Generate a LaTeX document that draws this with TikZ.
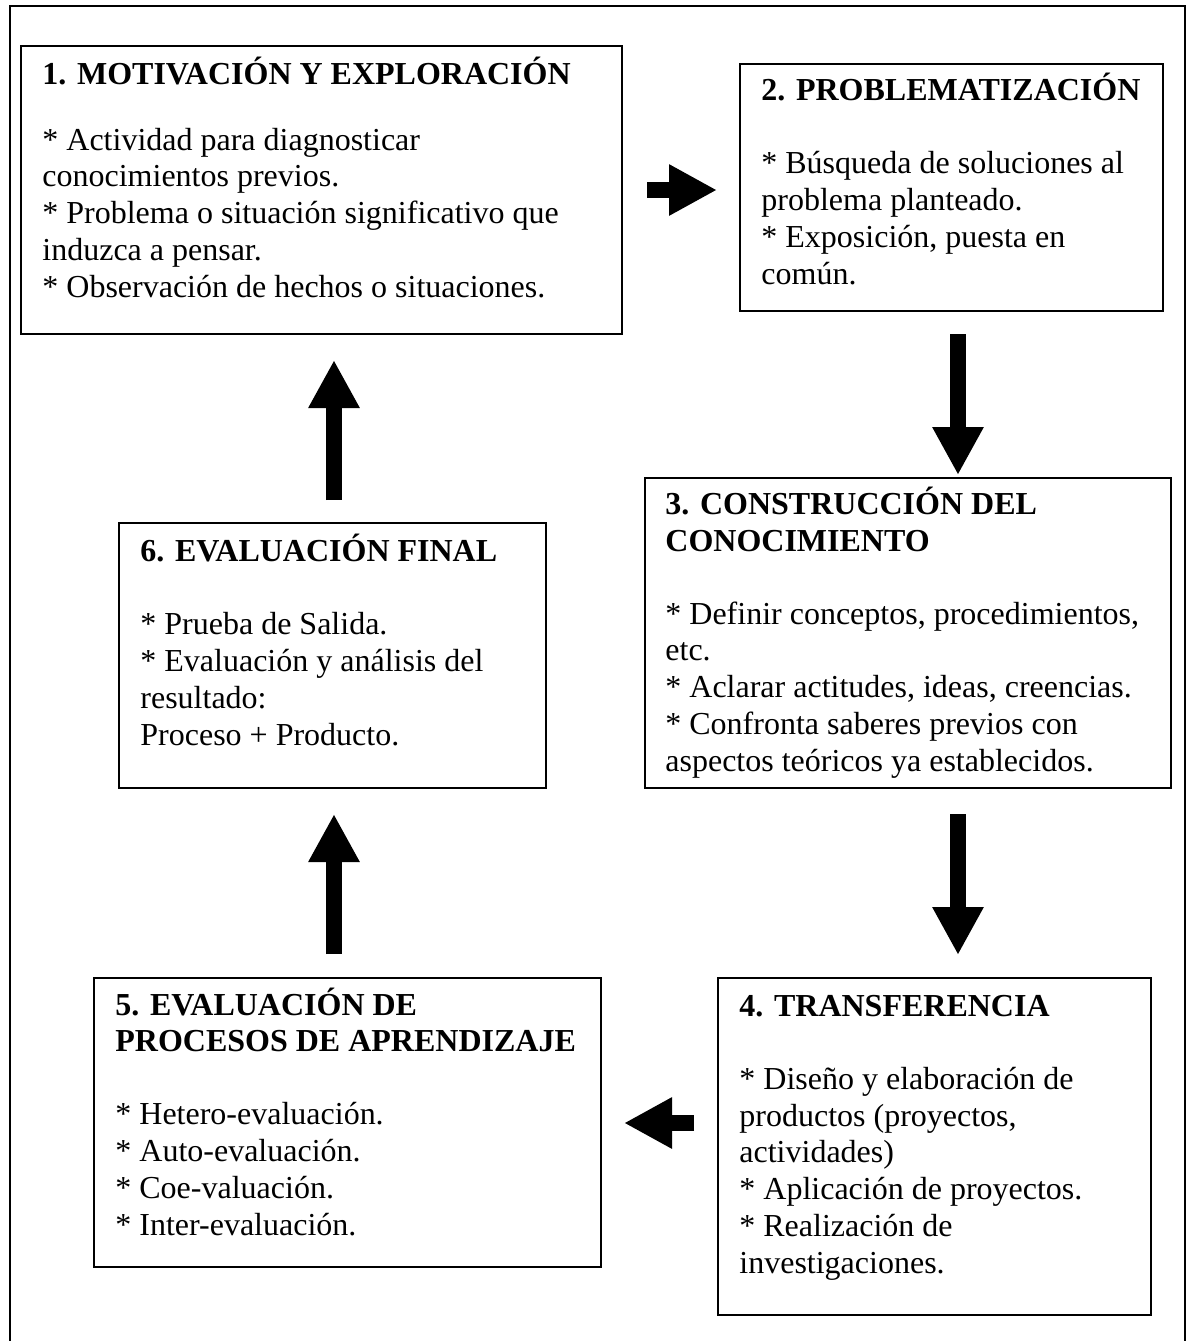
\documentclass[tikz,border=0pt]{standalone}
\usepackage{fontspec}
\setmainfont{Liberation Serif}
\usetikzlibrary{arrows.meta,calc}
\begin{document}
\begin{tikzpicture}[x=0.5pt,y=-0.5pt,
  box/.style={draw, line width=1pt, inner sep=0pt, anchor=north west},
  txt/.style={anchor=base west, inner sep=0pt, align=left, font=\fontsize{16}{18.35}\selectfont},
  blockarrow/.style={line width=8pt, -{Triangle[length=24pt,width=24pt]}},
  frame/.style={line width=1.2pt}]
\useasboundingbox (0,0) rectangle (1187,1341);
\draw[frame] (10,1341) -- (10,6) -- (1185,6) -- (1185,1341);

% boxes
\node[box, minimum width=300.5pt, minimum height=144pt] (b1) at (20,45) {};
\node[box, minimum width=211.5pt, minimum height=123.5pt] (b2) at (739,63) {};
\node[box, minimum width=263pt, minimum height=155pt] (b3) at (644,477) {};
\node[box, minimum width=213.5pt, minimum height=132.5pt] (b6) at (118,522) {};
\node[box, minimum width=253.5pt, minimum height=144.5pt] (b5) at (93,977) {};
\node[box, minimum width=216.5pt, minimum height=168.5pt] (b4) at (717,977) {};

% texts (anchored at the baseline of their last line)
\node[txt] (t1) at (42,297) {\textbf{1. MOTIVACIÓN Y EXPLORACIÓN}\\[14.65pt]
* Actividad para diagnosticar\\ conocimientos previos.\\
* Problema o situación significativo que\\ induzca a pensar.\\
* Observación de hechos o situaciones.};
\node[txt] (t2) at (761,284) {\textbf{2. PROBLEMATIZACIÓN}\\[18.15pt]
* Búsqueda de soluciones al\\ problema planteado.\\
* Exposición, puesta en\\ común.};
\node[txt] (t3) at (665,771) {\textbf{3. CONSTRUCCIÓN DEL}\\ \textbf{CONOCIMIENTO}\\[18.15pt]
* Definir conceptos, procedimientos,\\ etc.\\
* Aclarar actitudes, ideas, creencias.\\
* Confronta saberes previos con\\ aspectos teóricos ya establecidos.};
\node[txt] (t6) at (140,745) {\textbf{6. EVALUACIÓN FINAL}\\[18.15pt]
* Prueba de Salida.\\ * Evaluación y análisis del\\ resultado:\\ Proceso + Producto.};
\node[txt] (t5) at (115,1235) {\textbf{5. EVALUACIÓN DE}\\ \textbf{PROCESOS DE APRENDIZAJE}\\[18.15pt]
* Hetero-evaluación.\\ * Auto-evaluación.\\ * Coe-valuación.\\ * Inter-evaluación.};
\node[txt] (t4) at (739,1273) {\textbf{4. TRANSFERENCIA}\\[18.15pt]
* Diseño y elaboración de\\ productos (proyectos,\\ actividades)\\
* Aplicación de proyectos.\\ * Realización de\\ investigaciones.};

% arrows
\draw[blockarrow] ($(b1.east)+(24,0)$) -- ($(b2.west |- b1.east)+(-22,0)$);
\draw[blockarrow] ($(b2.south)+(6.5,22)$) -- ($(b2.south |- b3.north)+(6.5,-2)$);
\draw[blockarrow] ($(b3.south)+(50,25)$) -- ($(b3.south |- b4.north)+(50,-22)$);
\draw[blockarrow] ($(b4.west)+(-23,-23.5)$) -- ($(b5.east |- b4.west)+(22,-23.5)$);
\draw[blockarrow] ($(b5.north)+(-13.5,-23)$) -- ($(b5.north |- b6.south)+(-13.5,25)$);
\draw[blockarrow] ($(b6.north)+(1.5,-22)$) -- ($(b6.north |- b1.south)+(1.5,25)$);
\end{tikzpicture}
\end{document}
